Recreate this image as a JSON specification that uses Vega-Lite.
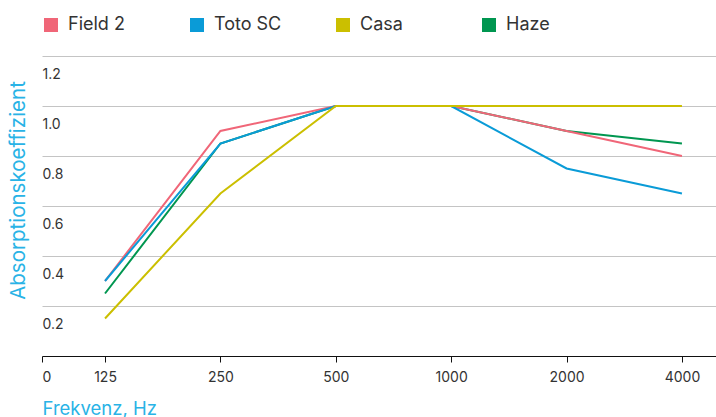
{
  "$schema": "https://vega.github.io/schema/vega-lite/v6.json",
  "width": 674,
  "height": 300,
  "autosize": {"type": "none"},
  "padding": {"left": 42, "top": 56, "right": 0, "bottom": 61},
  "background": "white",
  "config": {
    "view": {"stroke": null},
    "font": "Inter"
  },
  "data": {
    "values": [
      {"series": "Haze", "freq": 125, "value": 0.25},
      {"series": "Haze", "freq": 250, "value": 0.85},
      {"series": "Haze", "freq": 500, "value": 1.0},
      {"series": "Haze", "freq": 1000, "value": 1.0},
      {"series": "Haze", "freq": 2000, "value": 0.9},
      {"series": "Haze", "freq": 4000, "value": 0.85},
      {"series": "Field 2", "freq": 125, "value": 0.3},
      {"series": "Field 2", "freq": 250, "value": 0.9},
      {"series": "Field 2", "freq": 500, "value": 1.0},
      {"series": "Field 2", "freq": 1000, "value": 1.0},
      {"series": "Field 2", "freq": 2000, "value": 0.9},
      {"series": "Field 2", "freq": 4000, "value": 0.8},
      {"series": "Toto SC", "freq": 125, "value": 0.3},
      {"series": "Toto SC", "freq": 250, "value": 0.85},
      {"series": "Toto SC", "freq": 500, "value": 1.0},
      {"series": "Toto SC", "freq": 1000, "value": 1.0},
      {"series": "Toto SC", "freq": 2000, "value": 0.75},
      {"series": "Toto SC", "freq": 4000, "value": 0.65},
      {"series": "Casa", "freq": 125, "value": 0.15},
      {"series": "Casa", "freq": 250, "value": 0.65},
      {"series": "Casa", "freq": 500, "value": 1.0},
      {"series": "Casa", "freq": 1000, "value": 1.0},
      {"series": "Casa", "freq": 2000, "value": 1.0},
      {"series": "Casa", "freq": 4000, "value": 1.0}
    ]
  },
  "mark": {"type": "line", "strokeWidth": 2},
  "encoding": {
    "x": {
      "field": "freq",
      "type": "quantitative",
      "scale": {"type": "log", "base": 2, "domain": [85.6, 4908], "nice": false, "zero": false},
      "axis": {
        "title": "Frekvenz, Hz",
        "values": [85.6, 125, 250, 500, 1000, 2000, 4000],
        "labelExpr": "datum.value < 100 ? '0' : format(datum.value, 'd')",
        "labelAlign": {"condition": {"test": "datum.value < 100", "value": "left"}, "value": "center"},
        "grid": false,
        "domainColor": "#111111",
        "domainWidth": 1,
        "tickColor": "#111111",
        "tickSize": 6,
        "labelColor": "#333333",
        "labelFontSize": 14,
        "labelPadding": 8,
        "labelFlush": false,
        "labelOverlap": false,
        "titleColor": "#29b3e6",
        "titleFontSize": 18.5,
        "titleFontWeight": "normal",
        "titleAlign": "left",
        "titleAnchor": "start",
        "titleX": 0,
        "titleY": 52,
        "titleBaseline": "middle"
      }
    },
    "y": {
      "field": "value",
      "type": "quantitative",
      "scale": {"domain": [0, 1.2], "nice": false},
      "axis": {
        "title": "Absorptionskoeffizient",
        "values": [0.2, 0.4, 0.6, 0.8, 1.0, 1.2],
        "format": ".1f",
        "domain": false,
        "ticks": false,
        "tickSize": 0,
        "grid": true,
        "gridColor": "#c4c4c4",
        "gridWidth": 1,
        "labelAlign": "left",
        "labelBaseline": "middle",
        "labelOffset": 18,
        "labelPadding": 0,
        "labelColor": "#333333",
        "labelFontSize": 14,
        "labelFlush": false,
        "titleColor": "#29b3e6",
        "titleFontSize": 20.5,
        "titleFontWeight": "normal",
        "titleAngle": -90,
        "titleAlign": "center",
        "titleBaseline": "middle",
        "titleX": -24,
        "titleY": 134
      }
    },
    "color": {
      "field": "series",
      "type": "nominal",
      "scale": {
        "domain": ["Field 2", "Toto SC", "Casa", "Haze"],
        "range": ["#f06678", "#0a9bd7", "#cbbf00", "#009650"]
      },
      "legend": {
        "title": null,
        "orient": "none",
        "legendX": 0,
        "legendY": -40,
        "direction": "horizontal",
        "columns": 4,
        "gridAlign": "all",
        "columnPadding": 52,
        "padding": 0,
        "symbolType": "square",
        "symbolSize": 196,
        "symbolStrokeWidth": 0,
        "symbolOpacity": 1,
        "labelFontSize": 18,
        "labelColor": "#333333",
        "labelOffset": 8,
        "labelBaseline": "middle",
        "encode": {
          "symbols": {
            "update": {
              "fill": {"scale": "color", "field": "value"},
              "strokeWidth": {"value": 0}
            }
          }
        }
      }
    }
  }
}
